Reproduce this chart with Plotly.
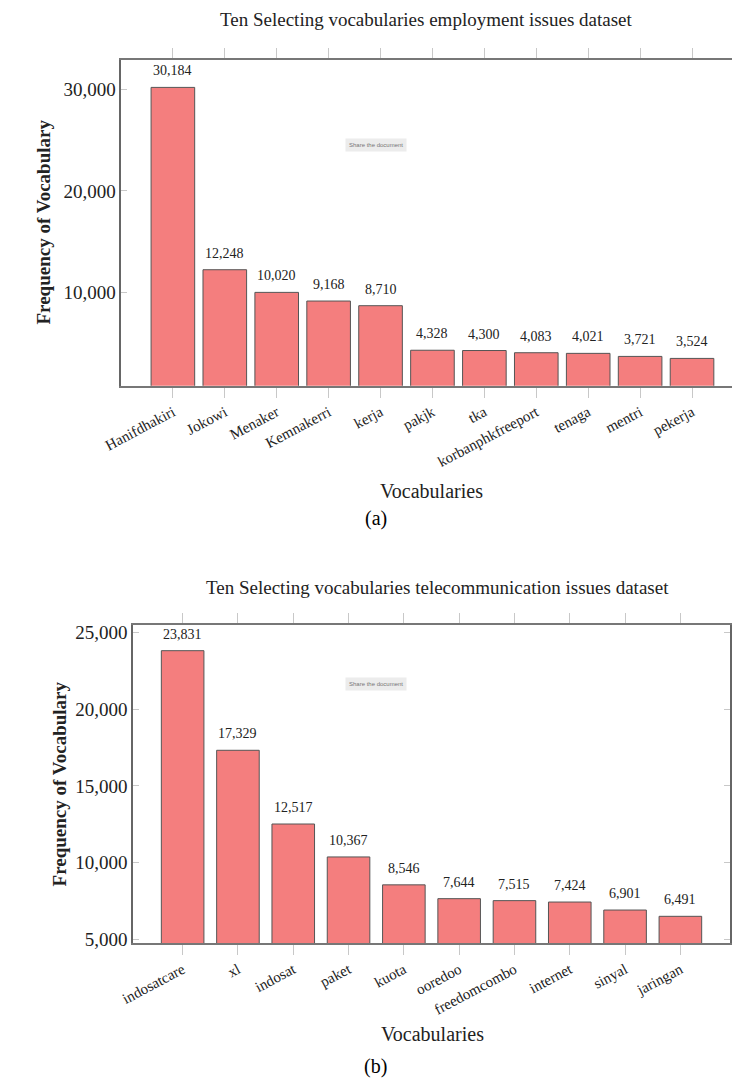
import plotly.graph_objects as go

W, H = 732, 1088

# ---- data ----
emp_words = ["Hanifdhakiri", "Jokowi", "Menaker", "Kemnakerri", "kerja", "pakjk", "tka",
             "korbanphkfreeport", "tenaga", "mentri", "pekerja"]
emp_counts = [30184, 12248, 10020, 9168, 8710, 4328, 4300, 4083, 4021, 3721, 3524]

tel_words = ["indosatcare", "xl", "indosat", "paket", "kuota", "ooredoo", "freedomcombo",
             "internet", "sinyal", "jaringan"]
tel_counts = [23831, 17329, 12517, 10367, 8546, 7644, 7515, 7424, 6901, 6491]

emp_title = "Ten Selecting vocabularies employment issues dataset"
tel_title = "Ten Selecting vocabularies telecommunication issues dataset"
y_title = "Frequency of Vocabulary"
x_title = "Vocabularies"
emp_yticks = [10000, 20000, 30000]
tel_yticks = [5000, 10000, 15000, 20000, 25000]

SERIF = "Liberation Serif"
BAR = "#F47E7E"
EDGE = "#555555"


def px(x):
    return x / W


def py(y):
    return 1 - y / H


fig = go.Figure()
fig.add_trace(go.Bar(x=emp_words, y=emp_counts, width=0.84, marker=dict(color=BAR, line=dict(color=EDGE, width=1)),
                     xaxis="x", yaxis="y", showlegend=False))
fig.add_trace(go.Bar(x=tel_words, y=tel_counts, width=0.77, marker=dict(color=BAR, line=dict(color=EDGE, width=1)),
                     xaxis="x2", yaxis="y2", showlegend=False))

xcommon = dict(type="category", showline=True, linecolor="#777", linewidth=2, mirror="ticks",
               ticks="outside", ticklen=10, tickcolor="#c8c8c8", tickwidth=1, tickangle=-28,
               tickfont=dict(family=SERIF, size=15, color="#222"), showgrid=False, zeroline=False)
ycommon = dict(showline=True, linecolor="#666", linewidth=1.5, ticks="inside", ticklen=6,
               tickcolor="#c8c8c8", tickformat=",d", showgrid=False, zeroline=False,
               tickfont=dict(family=SERIF, size=19, color="#222"))

fig.update_layout(
    width=W, height=H, margin=dict(l=0, r=0, t=0, b=0),
    paper_bgcolor="white", plot_bgcolor="white", bargap=0.15,
    xaxis=dict(xcommon, domain=[px(105), 1.0], range=[-0.994, 10.77], anchor="y"),
    yaxis=dict(ycommon, domain=[py(387), py(58)], range=[830, 32927], tickvals=emp_yticks,
               anchor="x", mirror=False),
    xaxis2=dict(xcommon, domain=[px(117), px(730)], range=[-0.898, 9.898], anchor="y2"),
    yaxis2=dict(ycommon, domain=[py(949), py(628)], range=[4740, 25520], tickvals=tel_yticks,
                anchor="x2", mirror="ticks"),
)

ann = []
# value labels
for w, c in zip(emp_words, emp_counts):
    ann.append(dict(x=w, y=c, xref="x", yref="y", text=f"{c:,}", showarrow=False, yanchor="bottom",
                    yshift=7, font=dict(family=SERIF, size=14, color="#222")))
for w, c in zip(tel_words, tel_counts):
    ann.append(dict(x=w, y=c, xref="x2", yref="y2", text=f"{c:,}", showarrow=False, yanchor="bottom",
                    yshift=7, font=dict(family=SERIF, size=14, color="#222")))


def txt(x, y, s, size, bold=False, angle=0, color="#222", family=SERIF):
    t = f"<b>{s}</b>" if bold else s
    return dict(x=px(x), y=py(y), xref="paper", yref="paper", text=t, showarrow=False,
                xanchor="center", yanchor="middle", textangle=angle,
                font=dict(family=family, size=size, color=color))


ann += [
    txt(418, 18, emp_title, 19),
    txt(430, 590, tel_title, 19),
    txt(25, 222, y_title, 19, bold=True, angle=-90),
    txt(42, 788, y_title, 19, bold=True, angle=-90),
    txt(423, 493, x_title, 20),
    txt(425, 1041, x_title, 20),
    txt(366, 521, "(a)", 20, color="#000"),
    txt(366, 1073, "(b)", 20, color="#000"),
]
for yy in (137, 688):
    ann.append(dict(x=px(366), y=py(yy), xref="paper", yref="paper", text="Share the document",
                    showarrow=False, bgcolor="#ececec", borderpad=3,
                    font=dict(family="Liberation Sans", size=6, color="#777")))

fig.update_layout(annotations=ann)
fig.write_html("out.html", config={"displayModeBar": False},
               post_script="document.body.style.margin='0';document.body.style.overflow='hidden';")
